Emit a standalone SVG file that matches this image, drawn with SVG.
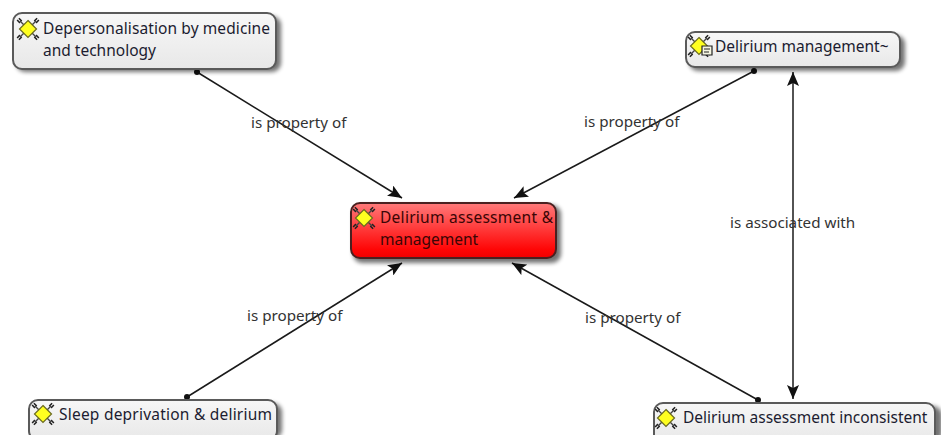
<svg xmlns="http://www.w3.org/2000/svg" xmlns:xlink="http://www.w3.org/1999/xlink" width="941" height="435" viewBox="0 0 941 435">
<style>
.box{stroke:#5a5a5a;stroke-width:2;fill:url(#g)}
.red{stroke:#4a2020;stroke-width:2;fill:url(#r)}
.sh{fill:#000;opacity:.55;filter:url(#b)}
.t{font-family:"Noto Sans","DejaVu Sans",sans-serif;font-size:15.5px;fill:#1c1c30}
.tr{font-family:"Noto Sans","DejaVu Sans",sans-serif;font-size:15.5px;fill:#3a0505}
.l{font-family:"Noto Sans","DejaVu Sans",sans-serif;font-size:15.2px;fill:#333}
.c{stroke:#1a1a1a;stroke-width:1.5;fill:none}
</style>
<defs>
<linearGradient id="g" x1="0" y1="0" x2="0" y2="1"><stop offset="0" stop-color="#f7f7f7"/><stop offset="1" stop-color="#e8e8e8"/></linearGradient>
<linearGradient id="r" x1="0" y1="0" x2="0" y2="1"><stop offset="0" stop-color="#ff7a7a"/><stop offset=".85" stop-color="#ff0505"/><stop offset="1" stop-color="#f00000"/></linearGradient>
<filter id="b" x="-10%" y="-30%" width="120%" height="160%"><feGaussianBlur stdDeviation="2"/></filter>
<marker id="a" viewBox="0 0 14 12" markerWidth="14" markerHeight="12" refX="14" refY="6" orient="auto-start-reverse" markerUnits="userSpaceOnUse"><path d="M0 0L14 6L0 12L3 6Z" fill="#111"/></marker>
<marker id="d" viewBox="0 0 6 6" markerWidth="6" markerHeight="6" refX="3" refY="3" markerUnits="userSpaceOnUse"><circle cx="3" cy="3" r="3" fill="#111"/></marker>
<g id="ic">
<path d="M-10-7L-7-10M-10 7L-7 10M10-7L7-10M10 7L7 10" stroke="#222" stroke-width="4" stroke-dasharray="1.5 1"/>
<path d="M-8-8L8 8M-8 8L8-8" stroke="#444" stroke-width="1.4"/>
<path d="M0-8.5L8.5 0L0 8.5L-8.5 0Z" fill="#ffff20" stroke="#6a6a20" stroke-width="1.2"/>
</g>
</defs>
<g id="connectors">
<path class="c" d="M197 72L402 198" marker-start="url(#d)" marker-end="url(#a)"/>
<path class="c" d="M754 71L514 198" marker-start="url(#d)" marker-end="url(#a)"/>
<path class="c" d="M187 397L402 263" marker-start="url(#d)" marker-end="url(#a)"/>
<path class="c" d="M758 400L512 263" marker-start="url(#d)" marker-end="url(#a)"/>
<path class="c" d="M793 72V399" marker-start="url(#a)" marker-end="url(#a)"/>
<text class="l" x="251" y="128">is property of</text>
<text class="l" x="584" y="127">is property of</text>
<text class="l" x="247" y="321">is property of</text>
<text class="l" x="585" y="323">is property of</text>
<text class="l" x="730" y="228">is associated with</text>
</g>
<g id="n1">
<rect class="sh" x="16" y="16" width="265" height="56" rx="9"/>
<rect class="box" x="13" y="13" width="263" height="56" rx="9"/>
<use xlink:href="#ic" href="#ic" x="28" y="29"/>
<text class="t" x="43" y="34" textLength="227">Depersonalisation by medicine</text>
<text class="t" x="43" y="56">and technology</text>
</g>
<g id="n2">
<rect class="sh" x="689" y="35" width="216" height="36" rx="9"/>
<rect class="box" x="686" y="32" width="214" height="35" rx="9"/>
<use xlink:href="#ic" href="#ic" x="699" y="46"/>
<path d="M702 46h10v9h-10z" fill="#f5f5e0" stroke="#222" stroke-width="1.2"/>
<path d="M704 49h6M704 52h5" stroke="#222"/>
<text class="t" x="715" y="52">Delirium management~</text>
</g>
<g id="n3">
<rect class="sh" x="353" y="205" width="208" height="58" rx="9"/>
<rect class="red" x="351" y="203" width="205" height="55" rx="9"/>
<use xlink:href="#ic" href="#ic" x="364" y="218"/>
<text class="tr" x="380" y="223" textLength="173">Delirium assessment &amp;</text>
<text class="tr" x="380" y="245">management</text>
</g>
<g id="n4">
<rect class="sh" x="32" y="403" width="250" height="36" rx="9"/>
<rect class="box" x="29" y="400" width="248" height="40" rx="9"/>
<use xlink:href="#ic" href="#ic" x="43" y="414"/>
<text class="t" x="59" y="420" textLength="213">Sleep deprivation &amp; delirium</text>
</g>
<g id="n5">
<rect class="sh" x="657" y="406" width="285" height="36" rx="9"/>
<rect class="box" x="654" y="403" width="281" height="40" rx="9"/>
<use xlink:href="#ic" href="#ic" x="666" y="418"/>
<text class="t" x="683" y="423">Delirium assessment inconsistent</text>
</g>
</svg>
